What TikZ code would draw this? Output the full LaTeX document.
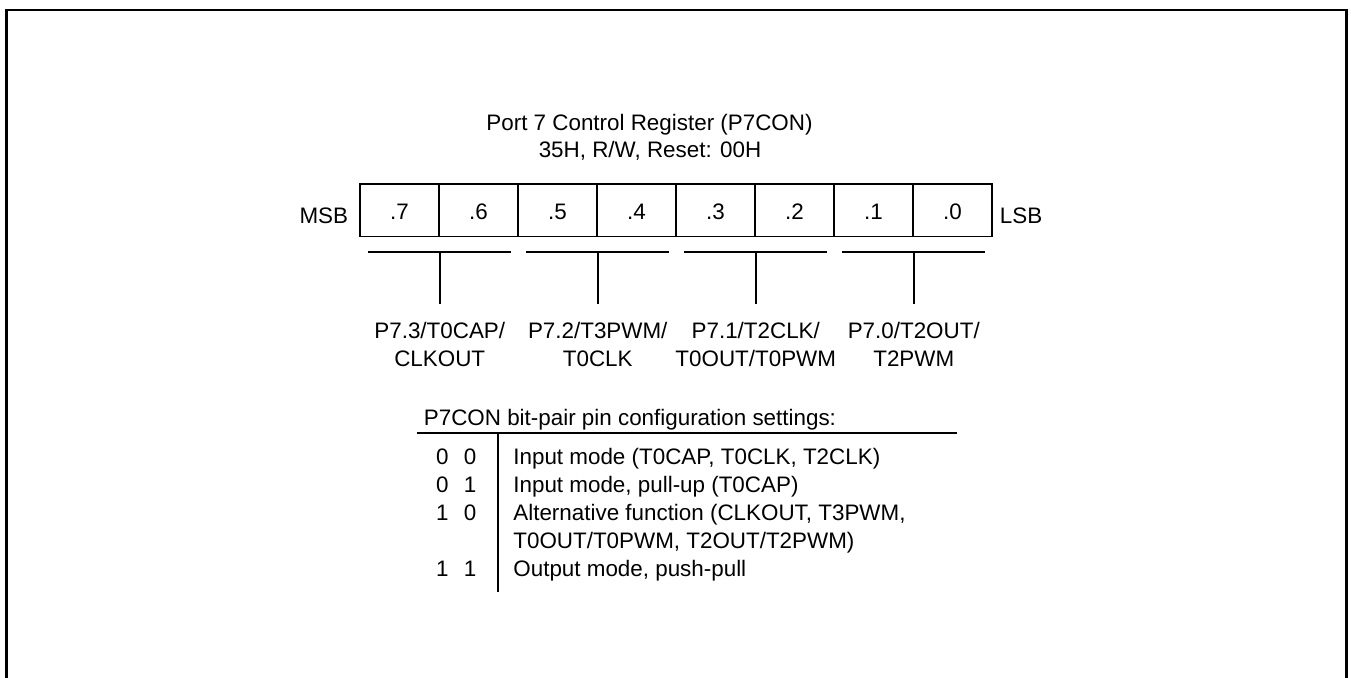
\documentclass[tikz,border=0pt]{standalone}
\usepackage{fontspec}
\setmainfont{Liberation Sans}
\begin{document}
\begin{tikzpicture}[x=0.5pt,y=-0.5pt,
  every node/.style={font=\fontsize{11.2}{13.8}\selectfont, inner sep=0pt},
  txt/.style={anchor=base},
  txtw/.style={anchor=base west},
  cell/.style={draw, line width=0.75pt, minimum width=39.5pt, minimum height=26.35pt},
  ln/.style={line width=0.8pt},
  frame/.style={line width=1.1pt}]
\useasboundingbox (0,0) rectangle (1351,678);
\draw[frame] (6.5,700) -- (6.5,10) -- (1346.5,10) -- (1346.5,700);

% title
\node[txt] (t1) at (649.5,131) {Port 7 Control Register (P7CON)};
\node[txt] (t2) at (650,158) {35H, R/W, Reset: 00H};

% register cells
\foreach \i/\b in {0/7,1/6,2/5,3/4,4/3,5/2,6/1,7/0}{
  \node[cell] (c\b) at ({360+79*(\i+0.5)},210.4) {};
  \node[txt] (d\b) at ({360+79*(\i+0.5)},219.5) {.\b};
}
\node[txt,anchor=base east] (msb) at (348.5,223.8) {MSB};
\node[txtw] (lsb) at (999.5,223.8) {LSB};

% bit-pair brackets
\foreach \k/\hi/\lo in {3/7/6,2/5/4,1/3/2,0/1/0}{
  \coordinate (bm\k) at (c\hi.south east |- 0,252);
  \coordinate (bl\k) at ([xshift=-35.75pt]bm\k);
  \coordinate (br\k) at ([xshift=35.75pt]bm\k);
  \coordinate (be\k) at ([yshift=-26pt]bm\k);
  \draw[ln] (bl\k) -- (br\k);
  \draw[ln] (bm\k) -- (be\k);
}

% pin labels
\node[txt] (p3a) at (bm3 |- 0,339) {P7.3/T0CAP/};
\node[txt] (p3b) at (bm3 |- 0,366.8) {CLKOUT};
\node[txt] (p2a) at (bm2 |- 0,339) {P7.2/T3PWM/};
\node[txt] (p2b) at (bm2 |- 0,366.8) {T0CLK};
\node[txt] (p1a) at (bm1 |- 0,339) {P7.1/T2CLK/};
\node[txt] (p1b) at (bm1 |- 0,366.8) {T0OUT/T0PWM};
\node[txt] (p0a) at (bm0 |- 0,339) {P7.0/T2OUT/};
\node[txt] (p0b) at (bm0 |- 0,366.8) {T2PWM};

% settings table
\node[txtw] (head) at (423.5,425.5) {P7CON bit-pair pin configuration settings:};
\coordinate (rl) at (416.5,433.3);
\coordinate (rr) at (957,433.3);
\coordinate (vt) at (497.7,433.3);
\coordinate (vb) at (497.7,591.7);
\draw[ln] (rl) -- (rr);
\draw[ln] (vt) -- (vb);

\node[txt] (k1) at (456.3,465) {0\hspace{7.7pt}0};
\node[txt] (k2) at (456.3,493) {0\hspace{7.7pt}1};
\node[txt] (k3) at (456.3,521) {1\hspace{7.7pt}0};
\node[txt] (k4) at (456.3,576.5) {1\hspace{7.7pt}1};
\node[txtw] (s1) at (513,465) {Input mode (T0CAP, T0CLK, T2CLK)};
\node[txtw] (s2) at (513,493) {Input mode, pull-up (T0CAP)};
\node[txtw] (s3) at (513,521) {Alternative function (CLKOUT, T3PWM,};
\node[txtw] (s3b) at (513,548.5) {T0OUT/T0PWM, T2OUT/T2PWM)};
\node[txtw] (s4) at (513,576.5) {Output mode, push-pull};
\end{tikzpicture}
\end{document}
